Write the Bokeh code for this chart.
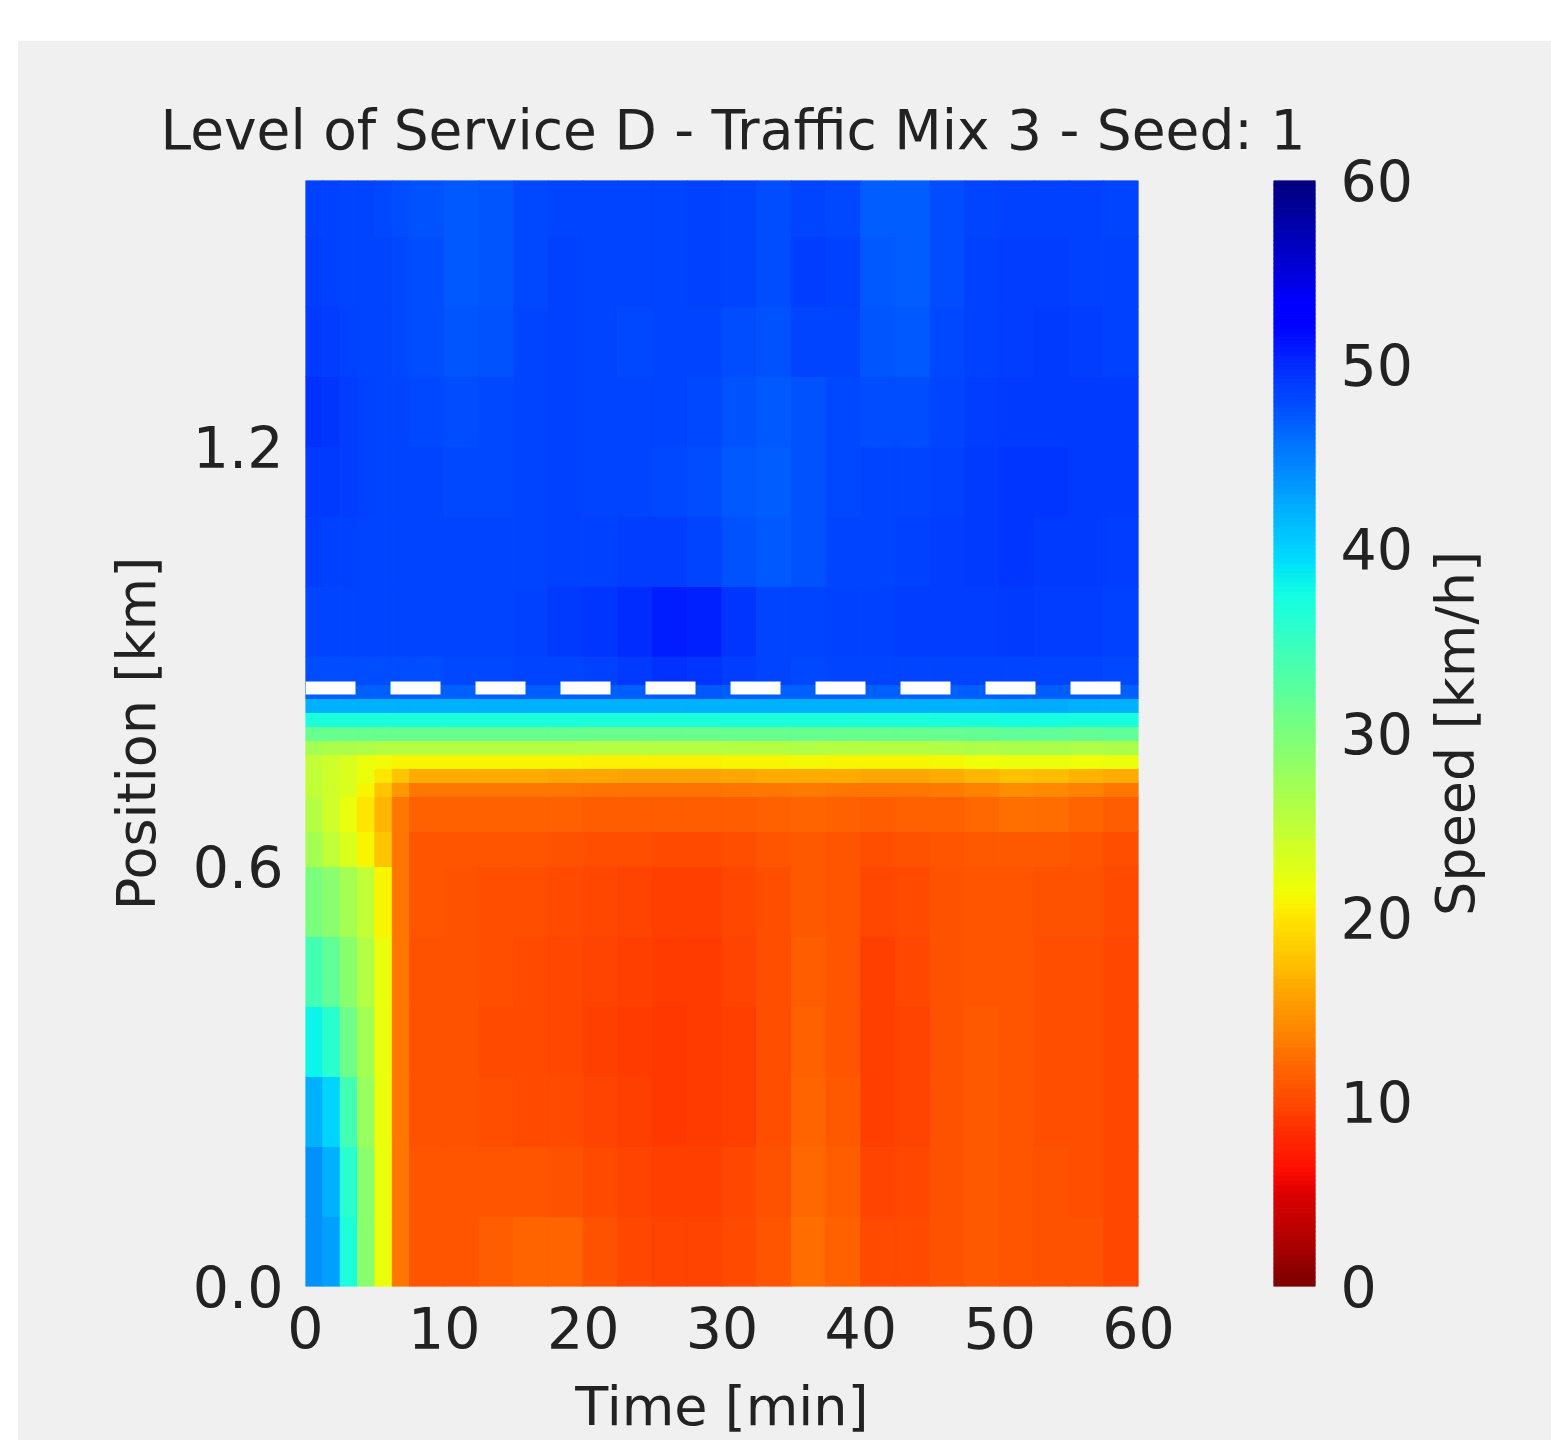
import numpy as np
from bokeh.plotting import figure
from bokeh.models import (Range1d, LinearColorMapper, FixedTicker, PrintfTickFormatter,
                          Span, ColumnDataSource)
from bokeh.layouts import row
from bokeh.embed import file_html
from bokeh.resources import INLINE

# ---------------- texts ----------------
title_text = "Level of Service D - Traffic Mix 3 - Seed: 1"
x_label = "Time [min]"
y_label = "Position [km]"
cb_label = "Speed [km/h]"

# ---------------- axes / ticks ----------------
x_ticks = [0, 10, 20, 30, 40, 50, 60]
y_ticks = [0.0, 0.6, 1.2]
speed_ticks = [0, 10, 20, 30, 40, 50, 60]
speed_min, speed_max = 0, 60
time_max = 60
pos_max = 1.58
bottleneck_km = 0.855

# ---------------- grid (cell edges) ----------------
time_edges = [0, 1.25, 2.5, 3.75, 5, 6.25, 7.5, 10, 12.5, 15, 17.5, 20, 22.5, 25,
              27.5, 30, 32.5, 35, 37.5, 40, 42.5, 45, 47.5, 50, 52.5, 55, 57.5, 60]
pos_edges = [0.0, 0.1, 0.2, 0.3, 0.4, 0.5, 0.6, 0.65, 0.70, 0.72, 0.74, 0.76, 0.78,
             0.80, 0.82, 0.84, 0.86, 0.90, 1.0, 1.1, 1.2, 1.3, 1.4, 1.5, 1.58]

# ---------------- speed values [km/h], one list per position band ----------------
speed_000_010 = [44, 43, 37, 29, 22, 13,
                 11.0, 11.0, 11.4, 11.9, 11.8, 10.7, 10.0, 9.7, 9.8, 10.2, 10.9, 12.2, 11.5, 10.1, 10.1, 10.7, 11.1, 11.0, 10.7, 10.6, 10.0]
speed_010_020 = [44, 42, 36, 29, 22, 13,
                 10.8, 10.8, 10.8, 10.9, 10.7, 10.1, 9.7, 9.4, 9.5, 9.9, 10.7, 12.1, 11.3, 9.8, 9.9, 10.7, 11.1, 11.0, 10.6, 10.5, 9.9]
speed_020_030 = [42, 40, 34, 28, 22, 13,
                 10.7, 10.6, 10.4, 10.3, 10.1, 9.7, 9.4, 9.1, 9.2, 9.6, 10.4, 11.9, 11.1, 9.5, 9.8, 10.7, 11.1, 10.9, 10.5, 10.5, 9.9]
speed_030_040 = [38, 36, 31, 27, 22, 13,
                 10.7, 10.6, 10.3, 10.2, 10.0, 9.6, 9.3, 9.1, 9.2, 9.6, 10.4, 11.7, 11.0, 9.5, 9.8, 10.7, 11.1, 10.9, 10.5, 10.5, 9.9]
speed_040_050 = [34, 32, 29, 26, 22, 13,
                 10.7, 10.6, 10.4, 10.2, 10.0, 9.7, 9.4, 9.2, 9.3, 9.7, 10.4, 11.4, 10.9, 9.6, 9.9, 10.7, 11.0, 10.8, 10.5, 10.5, 10.0]
speed_050_060 = [30, 29, 27, 25, 21, 13,
                 10.8, 10.7, 10.5, 10.4, 10.2, 9.9, 9.7, 9.5, 9.6, 9.9, 10.5, 11.1, 10.8, 9.9, 10.1, 10.7, 10.9, 10.8, 10.6, 10.6, 10.2]
speed_060_065 = [27, 25, 23, 21, 18, 13,
                 10.9, 10.9, 10.8, 10.8, 10.7, 10.5, 10.4, 10.3, 10.3, 10.5, 10.8, 11.1, 10.9, 10.5, 10.6, 10.9, 11.1, 11.2, 11.1, 10.9, 10.5]
speed_065_070 = [26, 24, 22, 20, 17, 13,
                 11.6, 11.6, 11.6, 11.6, 11.5, 11.4, 11.3, 11.3, 11.3, 11.4, 11.6, 11.8, 11.7, 11.4, 11.5, 11.7, 12.1, 12.5, 12.3, 11.9, 11.3]
speed_070_072 = [25, 24, 23, 21, 18, 15,
                 13.0, 13.0, 13.0, 13.0, 13.0, 12.8, 12.7, 12.7, 12.8, 12.9, 13.0, 13.2, 13.1, 12.9, 13.0, 13.3, 13.8, 14.5, 14.2, 13.6, 12.9]
speed_072_074 = [25, 24, 23, 22, 20, 18,
                 16.2, 16.2, 16.2, 16.2, 16.1, 16.0, 15.9, 15.9, 15.9, 16.0, 16.2, 16.3, 16.2, 16.0, 16.1, 16.4, 16.9, 17.6, 17.4, 16.8, 16.4]
speed_074_076 = [25, 24, 23, 22, 21.5, 21,
                 21.0, 21.0, 21.0, 21.0, 21.0, 20.8, 20.7, 20.7, 20.8, 20.9, 21.0, 21.1, 21.0, 20.9, 21.0, 21.2, 21.6, 22.0, 22.0, 21.7, 21.8]
speed_076_078 = [27, 26.5, 26.5, 26.3, 26, 26,
                 26.0, 26.0, 26.0, 26.0, 26.0, 25.9, 25.8, 25.8, 25.9, 26.0, 26.0, 26.1, 26.0, 26.0, 26.0, 26.1, 26.3, 26.6, 26.6, 26.4, 26.6]
speed_078_080 = [31.5, 31.5, 31.5, 31.5, 31.5, 31.5,
                 31.5, 31.5, 31.5, 31.5, 31.5, 31.4, 31.3, 31.3, 31.4, 31.5, 31.5, 31.6, 31.5, 31.5, 31.5, 31.6, 31.7, 31.9, 31.9, 31.8, 31.9]
speed_080_082 = [37.0, 37.0, 37.0, 37.0, 37.0, 37.0,
                 37.0, 37.0, 37.0, 37.0, 37.0, 37.0, 36.9, 36.9, 37.0, 37.0, 37.0, 37.0, 37.0, 37.0, 37.0, 37.1, 37.2, 37.3, 37.3, 37.2, 37.2]
speed_082_084 = [42.0, 42.0, 42.0, 42.0, 42.0, 42.0,
                 42.0, 42.0, 42.0, 42.0, 42.0, 42.0, 42.0, 42.0, 42.0, 42.0, 42.0, 42.0, 42.0, 42.0, 42.0, 42.0, 42.1, 42.2, 42.2, 42.1, 42.1]
speed_084_086 = [46.8, 46.8, 46.8, 46.8, 46.8, 46.8,
                 46.8, 46.8, 46.8, 46.9, 46.9, 47.0, 47.1, 47.3, 47.3, 47.0, 46.8, 46.8, 46.8, 46.8, 46.8, 46.8, 46.9, 46.9, 46.9, 46.8, 46.8]
speed_086_090 = [48.0, 48.0, 48.0, 48.0, 48.0, 48.0,
                 48.0, 48.1, 48.2, 48.3, 48.5, 48.7, 49.0, 49.5, 49.4, 48.8, 48.3, 48.2, 48.3, 48.3, 48.4, 48.4, 48.5, 48.5, 48.4, 48.3, 48.2]
speed_090_100 = [48.5, 48.5, 48.4, 48.4, 48.4, 48.3,
                 48.3, 48.4, 48.5, 48.7, 49.0, 49.3, 49.8, 50.8, 50.6, 49.3, 48.5, 48.5, 48.6, 48.7, 48.8, 48.8, 48.9, 49.0, 48.9, 48.8, 48.6]
speed_100_110 = [48.8, 48.7, 48.6, 48.5, 48.5, 48.4,
                 48.3, 48.3, 48.3, 48.5, 48.7, 48.7, 48.8, 48.8, 48.4, 47.6, 47.3, 47.8, 48.3, 48.5, 48.6, 48.8, 49.1, 49.3, 49.2, 49.0, 48.8]
speed_110_120 = [49.2, 49.0, 48.8, 48.6, 48.5, 48.4,
                 48.3, 48.2, 48.2, 48.4, 48.6, 48.5, 48.4, 48.2, 48.0, 47.3, 47.0, 47.6, 48.2, 48.3, 48.4, 48.6, 49.0, 49.3, 49.3, 49.2, 49.0]
speed_120_130 = [49.6, 49.4, 48.9, 48.6, 48.5, 48.3,
                 48.2, 48.0, 48.1, 48.4, 48.6, 48.5, 48.3, 48.3, 48.2, 47.6, 47.2, 47.8, 48.2, 48.0, 48.0, 48.3, 48.9, 49.1, 49.2, 49.2, 49.0]
speed_130_140 = [49.0, 48.9, 48.6, 48.5, 48.4, 48.2,
                 48.0, 47.5, 47.7, 48.3, 48.6, 48.5, 48.2, 48.4, 48.5, 48.0, 47.7, 48.4, 48.4, 47.4, 47.3, 48.1, 48.7, 48.9, 49.0, 48.9, 48.7]
speed_140_150 = [48.8, 48.7, 48.5, 48.4, 48.3, 48.1,
                 47.9, 47.3, 47.5, 48.2, 48.6, 48.5, 48.3, 48.5, 48.7, 48.3, 48.0, 48.8, 48.6, 47.2, 47.1, 48.0, 48.6, 48.8, 48.8, 48.7, 48.6]
speed_150_158 = [48.6, 48.6, 48.4, 48.3, 48.2, 48.0,
                 47.8, 47.2, 47.4, 48.2, 48.5, 48.4, 48.3, 48.4, 48.6, 48.3, 48.0, 48.4, 48.2, 47.0, 47.0, 48.0, 48.5, 48.6, 48.7, 48.6, 48.5]

speed_bands = [speed_000_010, speed_010_020, speed_020_030, speed_030_040, speed_040_050,
               speed_050_060, speed_060_065, speed_065_070, speed_070_072, speed_072_074,
               speed_074_076, speed_076_078, speed_078_080, speed_080_082, speed_082_084,
               speed_084_086, speed_086_090, speed_090_100, speed_100_110, speed_110_120,
               speed_120_130, speed_130_140, speed_140_150, speed_150_158]

# ---------------- style ----------------
BG = "#f0f0f0"
TXT = "#222222"
FONT = "DejaVu Sans"
H = 1399
TOP = 139
BOTTOM = 153


def jet_reversed(n=256):
    # matplotlib "jet" segment data, reversed (low speed = dark red)
    r = ([0, 0.35, 0.66, 0.89, 1], [0, 0, 1, 1, 0.5])
    g = ([0, 0.125, 0.375, 0.64, 0.91, 1], [0, 0, 1, 1, 0, 0])
    b = ([0, 0.11, 0.34, 0.65, 1], [0.5, 1, 1, 0, 0])
    cols = []
    for i in range(n):
        t = 1 - i / (n - 1)
        rr = np.interp(t, *r)
        gg = np.interp(t, *g)
        bb = np.interp(t, *b)
        cols.append("#%02x%02x%02x" % (int(round(rr * 255)), int(round(gg * 255)), int(round(bb * 255))))
    return cols


mapper = LinearColorMapper(palette=jet_reversed(256), low=speed_min, high=speed_max)


def clean_axis(ax, size="57px"):
    ax.axis_line_color = None
    ax.major_tick_line_color = None
    ax.minor_tick_line_color = None
    ax.major_tick_out = 0
    ax.major_tick_in = 0
    ax.minor_tick_out = 0
    ax.minor_tick_in = 0
    ax.major_label_text_font = FONT
    ax.major_label_text_font_size = size
    ax.major_label_text_color = TXT
    ax.axis_label_text_font = FONT
    ax.axis_label_text_font_size = "54px"
    ax.axis_label_text_font_style = "normal"
    ax.axis_label_text_color = TXT


# ---------------- heatmap cells ----------------
lefts, rights, bottoms, tops, vals = [], [], [], [], []
for i, band in enumerate(speed_bands):
    for j, v in enumerate(band):
        lefts.append(time_edges[j])
        rights.append(time_edges[j + 1])
        bottoms.append(pos_edges[i])
        tops.append(pos_edges[i + 1])
        vals.append(v)
heat_src = ColumnDataSource(dict(left=lefts, right=rights, bottom=bottoms, top=tops, speed=vals))

# main panel (wide enough that the whole title fits on its canvas)
p1 = figure(width=1402, height=H, x_range=Range1d(0, time_max), y_range=Range1d(0, pos_max),
            output_backend="svg", toolbar_location=None,
            min_border_left=287, min_border_right=282, min_border_top=TOP, min_border_bottom=BOTTOM,
            background_fill_color=BG, border_fill_color=BG, outline_line_color=None)
p1.quad(left="left", right="right", bottom="bottom", top="top", source=heat_src,
        fill_color={"field": "speed", "transform": mapper},
        line_color={"field": "speed", "transform": mapper}, line_width=1)
p1.add_layout(Span(location=bottleneck_km, dimension="width", line_color="white",
                   line_width=13, line_dash="50 35"))
p1.grid.visible = False

p1.title.text = title_text
p1.title.align = "left"
p1.title.offset = -145
p1.title.text_font = FONT
p1.title.text_font_size = "55px"
p1.title.text_font_style = "normal"
p1.title.text_color = TXT
p1.title.standoff = 37

clean_axis(p1.xaxis[0])
clean_axis(p1.yaxis[0])
p1.xaxis.ticker = FixedTicker(ticks=x_ticks)
p1.yaxis.ticker = FixedTicker(ticks=y_ticks)
p1.yaxis.formatter = PrintfTickFormatter(format="%.1f")
p1.yaxis.major_label_standoff = 22
p1.xaxis.major_label_standoff = 20
p1.xaxis.axis_label = x_label
p1.xaxis.axis_label_standoff = 23
p1.yaxis.axis_label = y_label
p1.yaxis.axis_label_standoff = 22

# ---------------- colour bar (transparent panel laid over the right part of p1) ----------------
cb_edges = np.linspace(speed_min, speed_max, 241)
cb_src = ColumnDataSource(dict(bottom=cb_edges[:-1], top=cb_edges[1:],
                               speed=(cb_edges[:-1] + cb_edges[1:]) / 2))

p2 = figure(width=190, height=H, x_range=Range1d(0, 1), y_range=Range1d(speed_min, speed_max),
            y_axis_location="right", output_backend="svg", toolbar_location=None,
            min_border_left=43, min_border_right=105, min_border_top=TOP, min_border_bottom=BOTTOM,
            background_fill_alpha=0, border_fill_alpha=0, outline_line_color=None,
            margin=(0, 0, 0, -190))
p2.quad(left=0, right=1, bottom="bottom", top="top", source=cb_src,
        fill_color={"field": "speed", "transform": mapper},
        line_color={"field": "speed", "transform": mapper}, line_width=1)
p2.grid.visible = False
p2.xaxis.visible = False
clean_axis(p2.yaxis[0])
p2.yaxis.ticker = FixedTicker(ticks=speed_ticks)
p2.yaxis.major_label_standoff = 25

# ---------------- colour bar label (own narrow panel, reads bottom-to-top) ----------------
p3 = figure(width=131, height=H, x_range=Range1d(0, 1), y_range=Range1d(0, 1),
            output_backend="svg", toolbar_location=None,
            min_border_left=80, min_border_right=21, min_border_top=TOP, min_border_bottom=BOTTOM,
            background_fill_color=BG, border_fill_color=BG, outline_line_color=None)
p3.grid.visible = False
p3.xaxis.visible = False
clean_axis(p3.yaxis[0])
p3.yaxis.ticker = FixedTicker(ticks=[])
p3.yaxis.axis_label = cb_label
p3.yaxis.axis_label_standoff = 17

layout = row(p1, p2, p3, margin=(41, 0, 0, 18), spacing=0,
             styles={"background-color": BG})

open("out.html", "w").write(file_html(layout, INLINE))
